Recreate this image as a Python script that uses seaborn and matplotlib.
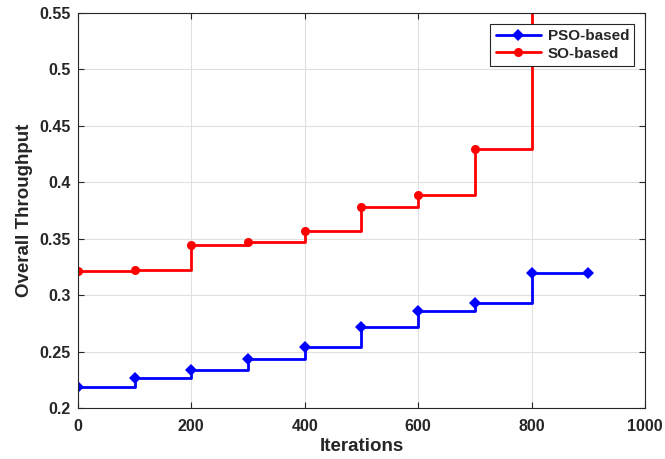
import matplotlib
matplotlib.use("Agg")
import matplotlib.pyplot as plt
import seaborn as sns
import pandas as pd

iterations = [0, 100, 200, 300, 400, 500, 600, 700, 800, 900]
pso_values = [0.219, 0.227, 0.234, 0.243, 0.254, 0.272, 0.286, 0.293, 0.320, 0.320]
so_iterations = [0, 100, 200, 300, 400, 500, 600, 700, 800]
so_values = [0.321, 0.322, 0.344, 0.347, 0.357, 0.378, 0.389, 0.429, 0.60]

sns.set_theme(style="whitegrid")
plt.rcParams['font.family'] = ['Liberation Sans', 'DejaVu Sans']
plt.rcParams['font.weight'] = 'bold'

fig = plt.figure(figsize=(6.65, 4.59), dpi=100)
ax = fig.add_axes([0.117, 0.111, 0.853, 0.861])

df_pso = pd.DataFrame({"it": iterations, "v": pso_values})
df_so = pd.DataFrame({"it": so_iterations, "v": so_values})

sns.lineplot(data=df_pso, x="it", y="v", ax=ax, color="#0000ff", lw=2,
             marker="D", markersize=6, markeredgewidth=0, drawstyle="steps-post",
             label="PSO-based")
sns.lineplot(data=df_so, x="it", y="v", ax=ax, color="#ff0000", lw=2,
             marker="o", markersize=6.5, markeredgewidth=0, drawstyle="steps-post",
             label="SO-based")

ax.set_xlim(0, 1000)
ax.set_ylim(0.2, 0.55)
ax.set_xticks([0, 200, 400, 600, 800, 1000])
ax.set_yticks([0.2, 0.25, 0.3, 0.35, 0.4, 0.45, 0.5, 0.55])
ax.set_yticklabels(["0.2", "0.25", "0.3", "0.35", "0.4", "0.45", "0.5", "0.55"])
ax.set_xlabel("Iterations", fontsize=13.5, fontweight="bold", color="#262626", labelpad=3)
ax.set_ylabel("Overall Throughput", fontsize=13.5, fontweight="bold", color="#262626", labelpad=5)
ax.tick_params(axis="both", which="both", direction="in", length=4, width=0.8,
               labelsize=11.5, colors="#262626", labelcolor="#262626",
               top=True, right=True, bottom=True, left=True)
ax.tick_params(axis="x", pad=8)
ax.tick_params(axis="y", pad=5)
for lbl in ax.get_xticklabels() + ax.get_yticklabels():
    lbl.set_fontweight("bold")
ax.grid(True, color="#e0e0e0", lw=0.8)
ax.set_facecolor("white")
for s in ax.spines.values():
    s.set_visible(True)
    s.set_color("#262626")
    s.set_linewidth(0.8)

leg = ax.legend(loc="upper right", frameon=True, fancybox=False,
                edgecolor="#262626", framealpha=1, handlelength=3.0,
                borderpad=0.35, labelspacing=0.25, handletextpad=0.4,
                borderaxespad=0.7, prop={"weight": "bold", "size": 11})
leg.get_frame().set_linewidth(0.8)

fig.savefig("out.png", dpi=100)
